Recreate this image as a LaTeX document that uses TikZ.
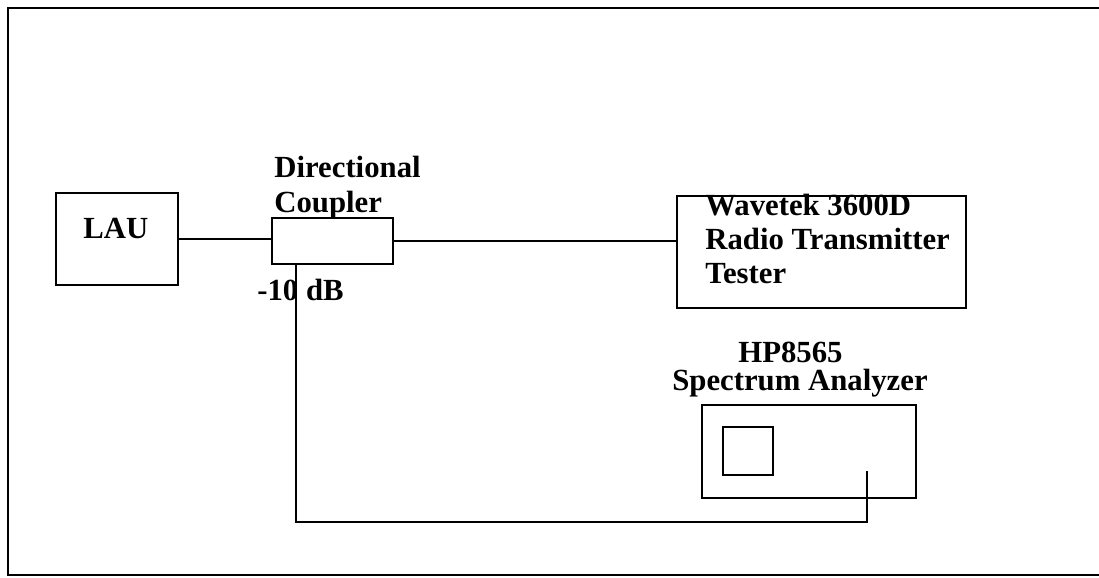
\documentclass[tikz,border=0pt]{standalone}
\usepackage{fontspec}
\setmainfont{Liberation Serif}
\usetikzlibrary{positioning}
\tikzset{
  unit/.style={draw, line width=1.4pt, inner sep=0pt},
  cable/.style={line width=1.4pt},
  txt/.style={font=\fontsize{17.5}{20}\selectfont\bfseries, inner sep=0pt}
}

\begin{document}
\begin{tikzpicture}[x=0.02cm, y=-0.02cm]
\useasboundingbox (0,0) rectangle (1099,578);
% frame
\draw[line width=1.4pt] (1099,8) -- (8,8) -- (8,575) -- (1099,575);
% units
\node[unit, minimum width=2.44cm, minimum height=1.84cm] (lau) at (117,239) {};
\node[unit, minimum width=2.42cm, minimum height=0.92cm] (coupler) at (332.5,241) {};
\node[unit, minimum width=5.78cm, minimum height=2.24cm] (tester) at (821.5,252) {};
\node[unit, minimum width=4.28cm, minimum height=1.86cm] (analyzer) at (809,451.5) {};
\node[unit, minimum width=1.0cm, minimum height=0.96cm] (screen) at (748,451) {};
\coordinate (probe) at (867,471);
% labels
\node[txt, anchor=base west] (lautxt) at (83,238) {LAU};
\node[txt, anchor=base west] (dir1) at (274,177) {Directional};
\node[txt, anchor=base west] (dir2) at (274,212) {Coupler};
\node[txt, anchor=base west] (loss) at (257,300) {-10 dB};
\node[txt, anchor=base west] (wt1) at (705,215) {Wavetek 3600D};
\node[txt, anchor=base west] (wt2) at (705,249) {Radio Transmitter};
\node[txt, anchor=base west] (wt3) at (705,283) {Tester};
\node[txt, anchor=base west] (hp1) at (738,362) {HP8565};
\node[txt, anchor=base west] (hp2) at (672,390) {Spectrum Analyzer};
% cables
\draw[cable] (lau.east) -- (lau.east -| coupler.west);
\draw[cable] (coupler.east) -- (coupler.east -| tester.west);
\draw[cable] ([xshift=0.5cm]coupler.south west) -- ++(0,257) -| (probe);
\end{tikzpicture}
\end{document}
